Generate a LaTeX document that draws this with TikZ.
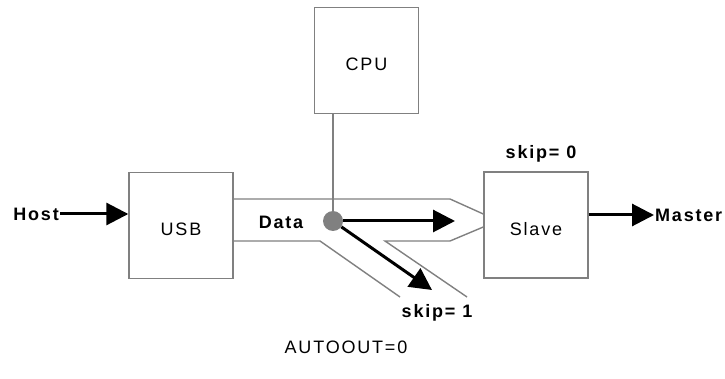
\documentclass[tikz,border=0pt]{standalone}
\usepackage{fontspec}
\setmainfont{Liberation Sans}[LetterSpace=10]
\usepackage{tikz}
\usetikzlibrary{arrows.meta, positioning}

\begin{document}
\begin{tikzpicture}[x=1pt, y=-1pt, >={Triangle[length=22pt,width=22pt]},
    blk/.style={draw=gray, line width=1.4pt, minimum width=104pt,
      minimum height=106pt, inner sep=0pt, text height=21pt, text depth=0pt,
      font=\fontsize{18}{21}\selectfont},
    lbl/.style={font=\fontsize{18}{21}\selectfont\bfseries, inner sep=1pt},
    flow/.style={->, line width=3pt},
    bus/.style={draw=gray, line width=1.4pt}]
  \useasboundingbox (0,0) rectangle (725,379);
  % blocks
  \node[blk] (cpu) at (366.5,60.5) {CPU};
  \node[blk] (usb) at (181,225.5) {USB};
  \node[blk] (slave) at (536,225) {Slave};
  % labels
  \node[lbl, anchor=east] (host) at (60,214) {Host};
  \node[lbl, anchor=west] (master) at (654,215) {Master};
  \node[lbl] (skip0) at (541,154) {skip= 0};
  \node[lbl] (skip1) at (437,313) {skip= 1};
  \node[lbl] (data) at (281,222) {Data};
  \node[font=\fontsize{18}{21}\selectfont] (mode) at (346,347) {AUTOOUT=0};
  % data channel
  \draw[bus] (usb.east |- 0,199) -- (450,199) -- (slave.west |- 0,214);
  \draw[bus] (slave.west |- 0,227) -- (450,241) -- (385,241) -- (467,297);
  \draw[bus] (usb.east |- 0,241) -- (320,241) -- (400,297);
  \node[circle, fill=gray, minimum size=20pt, inner sep=0pt] (tap) at (333,221) {};
  \draw[bus] (cpu.south -| tap) -- (tap);
  \coordinate (out0) at (455,221);
  \coordinate (out1) at (432,290);
  % arrows
  \draw[flow] (host.east) -- (usb.west |- host.east);
  \draw[flow] (slave.east |- master.west) -- (master.west);
  \draw[flow] (tap.east) -- (out0);
  \draw[flow] (tap.-35) -- (out1);
\end{tikzpicture}
\end{document}
